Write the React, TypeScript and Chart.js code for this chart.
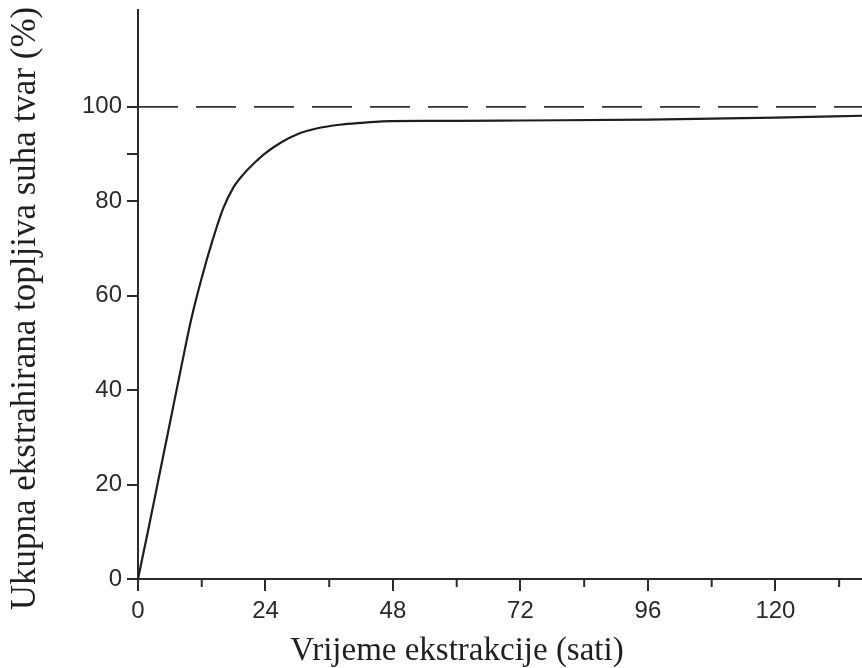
import React, { useEffect, useRef } from "react";
import { Chart, registerables } from "chart.js";

Chart.register(...registerables);

// Extraction time (hours) and cumulative extracted soluble solids (%)
const hours = [0, 2, 4, 6, 8, 10, 12, 14, 16, 18, 20, 22, 24, 27, 30, 34, 38, 42, 46, 54, 60, 72, 96, 120, 136.3];
const extracted = [0, 10.8, 21.9, 33.0, 44.1, 54.9, 63.8, 71.6, 78.4, 83.0, 85.9, 88.2, 90.2, 92.5, 94.2, 95.5, 96.2, 96.6, 96.9, 97.0, 97.0, 97.1, 97.3, 97.7, 98.1];

const referenceLevel = 100;

const xMajorTicks = [0, 24, 48, 72, 96, 120];
const xMinorTicks = [12, 36, 60, 84, 108, 132];
const yMajorTicks = [0, 20, 40, 60, 80, 100];
const yMinorTicks = [90];

const xMin = 0;
const xMax = 136.3;
const yMin = 0;
const yMax = 120.5;

const xTitle = "Vrijeme ekstrakcije (sati)";
const yTitle = "Ukupna ekstrahirana topljiva suha tvar (%)";

const INK = "#2a2a2a";
const TICK_FONT = "Liberation Sans";
const TITLE_FONT = "Liberation Serif";

const minorTicksPlugin = {
  id: "minorTicks",
  afterDraw(chart: any) {
    const ctx = chart.ctx;
    const xs = chart.scales.x;
    const area = chart.chartArea;
    ctx.save();
    ctx.strokeStyle = INK;
    ctx.lineWidth = 2;
    xMinorTicks.forEach((v) => {
      const px = xs.getPixelForValue(v);
      ctx.beginPath();
      ctx.moveTo(px, area.bottom);
      ctx.lineTo(px, area.bottom + 8);
      ctx.stroke();
    });
    ctx.restore();
  },
};

const titlesPlugin = {
  id: "axisTitles",
  afterDraw(chart: any) {
    const ctx = chart.ctx;
    const area = chart.chartArea;
    ctx.save();
    ctx.fillStyle = "#1f1f1f";
    ctx.font = `33px "${TITLE_FONT}"`;
    ctx.textAlign = "center";
    ctx.textBaseline = "alphabetic";
    ctx.fillText(xTitle, area.left + 319, area.bottom + 81);
    ctx.translate(area.left - 103, (area.top + area.bottom) / 2 + 14);
    ctx.rotate(-Math.PI / 2);
    ctx.font = `35px "${TITLE_FONT}"`;
    ctx.fillText(yTitle, 0, 0);
    ctx.restore();
  },
};

export default function App() {
  const canvasRef = useRef<HTMLCanvasElement | null>(null);

  useEffect(() => {
    if (!canvasRef.current) return;
    const chart = new Chart(canvasRef.current, {
      type: "line",
      data: {
        datasets: [
          {
            label: "extracted",
            data: hours.map((h, i) => ({ x: h, y: extracted[i] })),
            borderColor: "#1e1e1e",
            borderWidth: 2.2,
            pointRadius: 0,
            fill: false,
            cubicInterpolationMode: "monotone",
          },
          {
            label: "reference",
            data: [
              { x: xMin, y: referenceLevel },
              { x: xMax, y: referenceLevel },
            ],
            borderColor: "#333333",
            borderWidth: 1.8,
            borderDash: [40, 18],
            pointRadius: 0,
            fill: false,
          },
        ],
      },
      options: {
        animation: false,
        responsive: true,
        maintainAspectRatio: false,
        layout: { padding: { top: 10, right: 0, left: 0, bottom: 0 } },
        plugins: {
          legend: { display: false },
          tooltip: { enabled: false },
        },
        scales: {
          x: {
            type: "linear",
            min: xMin,
            max: xMax,
            afterBuildTicks: (s: any) => {
              s.ticks = xMajorTicks.map((v) => ({ value: v }));
            },
            afterFit: (s: any) => {
              s.height = 89;
              s.paddingLeft = 0;
              s.paddingRight = 0;
            },
            grid: {
              drawOnChartArea: false,
              drawTicks: true,
              tickLength: 12,
              color: INK,
              lineWidth: 2,
            },
            border: { display: true, color: INK, width: 2 },
            ticks: {
              autoSkip: false,
              maxRotation: 0,
              padding: 6,
              color: INK,
              font: { family: TICK_FONT, size: 24 },
              callback: (v: any) => String(v),
            },
          },
          y: {
            type: "linear",
            min: yMin,
            max: yMax,
            afterBuildTicks: (s: any) => {
              s.ticks = [...yMajorTicks, ...yMinorTicks]
                .sort((a, b) => a - b)
                .map((v) => ({ value: v }));
            },
            afterFit: (s: any) => {
              s.width = 138;
              s.paddingTop = 0;
              s.paddingBottom = 0;
            },
            grid: {
              drawOnChartArea: false,
              drawTicks: true,
              tickLength: 11,
              color: INK,
              lineWidth: 2,
            },
            border: { display: true, color: INK, width: 2 },
            ticks: {
              autoSkip: false,
              padding: 5,
              color: INK,
              font: { family: TICK_FONT, size: 24 },
              callback: (v: any) => (yMajorTicks.includes(Number(v)) ? String(v) : ""),
            },
          },
        },
      },
      plugins: [minorTicksPlugin, titlesPlugin],
    });
    return () => chart.destroy();
  }, []);

  return (
    <div style={{ position: "absolute", left: 0, top: 0, width: 862, height: 668, background: "#fff" }}>
      <canvas ref={canvasRef} />
    </div>
  );
}
